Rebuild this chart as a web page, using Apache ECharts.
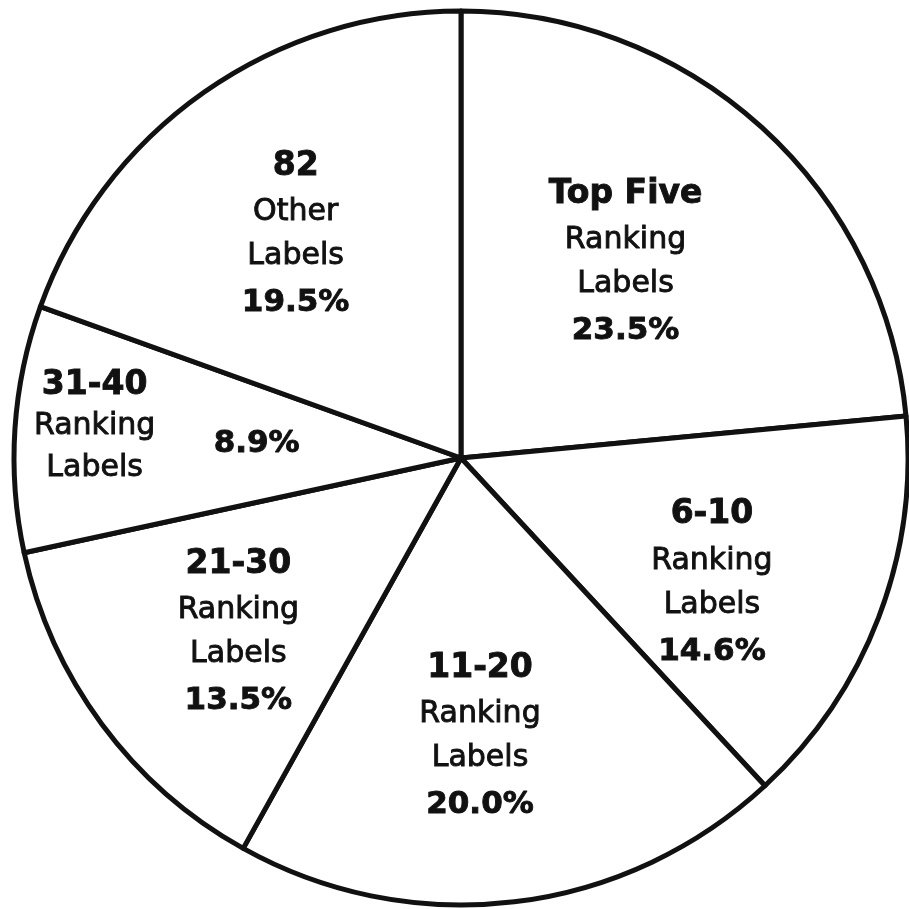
<!DOCTYPE html>
<html>
<head>
<meta charset="utf-8">
<script src="https://cdn.jsdelivr.net/npm/echarts@6/dist/echarts.min.js"></script>
<style>
  html, body { margin: 0; padding: 0; background: #fff; }
  #chart { width: 909px; height: 909px; }
</style>
</head>
<body>
<div id="chart"></div>
<script>
// Share of chart positions held by each group of record labels
const groups = ['Top Five', '6-10', '11-20', '21-30', '31-40', '82'];
const groupKinds = ['Ranking', 'Ranking', 'Ranking', 'Ranking', 'Ranking', 'Other'];
const shares = [23.5, 14.6, 20.0, 13.5, 8.9, 19.5];

// Pie geometry (pixels)
const CX = 461, CY = 458, R = 447;
// Label placement: fraction of the radius along each slice's mid angle, plus small nudges
const labelRadius = [0.62, 0.62, 0.62, 0.62, 0.66, 0.62];
const labelNudge = [[-22, 10], [-8, 27], [-14, 4], [0, 10], [-2, -11], [-6, 4]];

const total = shares.reduce((a, b) => a + b, 0);
const midAngles = [];
let acc = 0;
shares.forEach(v => { midAngles.push((acc + v / 2) / total * 2 * Math.PI); acc += v; });

const FONT = 'DejaVu Sans';
const INK = '#111';
// a thin outline of the same ink gives the printed, slightly heavy letterforms
const heavy = { textBorderColor: INK, textBorderWidth: 0.9 };

function labelText(i) {
  const pct = shares[i].toFixed(1) + '%';
  if (i === 4) {
    // narrow slice: name block on the left, percentage beside it
    return '{hs|' + groups[i] + '}{sp| }\n{ns|' + groupKinds[i] + '}{ps|' + pct + '}\n{ns|Labels}{sp| }';
  }
  return '{h|' + groups[i] + '}\n{n|' + groupKinds[i] + '}\n{n|Labels}\n{p|' + pct + '}';
}

const rich = {
  h:  Object.assign({ fontFamily: FONT, fontWeight: 'bold', fontSize: 33, lineHeight: 48, color: INK }, heavy),
  n:  Object.assign({ fontFamily: FONT, fontSize: 30, lineHeight: 44, color: INK }, heavy),
  p:  Object.assign({ fontFamily: FONT, fontWeight: 'bold', fontSize: 31, lineHeight: 50, color: INK }, heavy),
  hs: Object.assign({ fontFamily: FONT, fontWeight: 'bold', fontSize: 33, lineHeight: 40, width: 130, align: 'center', color: INK }, heavy),
  ns: Object.assign({ fontFamily: FONT, fontSize: 30, lineHeight: 42, width: 130, align: 'center', color: INK }, heavy),
  ps: Object.assign({ fontFamily: FONT, fontWeight: 'bold', fontSize: 31, lineHeight: 42, width: 140, align: 'right', padding: [34, 0, 0, 0], color: INK }, heavy),
  sp: { fontFamily: FONT, fontSize: 10, lineHeight: 10, width: 140, align: 'right', color: INK }
};

const chart = echarts.init(document.getElementById('chart'), null, { renderer: 'canvas' });
chart.setOption({
  backgroundColor: '#fff',
  animation: false,
  series: [{
    type: 'pie',
    center: [CX, CY],
    radius: R,
    startAngle: 90,
    clockwise: true,
    avoidLabelOverlap: false,
    silent: true,
    itemStyle: { color: '#fff', borderColor: INK, borderWidth: 5 },
    label: {
      show: true,
      position: 'inside',
      formatter: p => labelText(p.dataIndex),
      rich: rich
    },
    labelLine: { show: false },
    labelLayout: function (p) {
      const i = p.dataIndex, a = midAngles[i], k = labelRadius[i] * R;
      return {
        x: CX + k * Math.sin(a) + labelNudge[i][0],
        y: CY - k * Math.cos(a) + labelNudge[i][1]
      };
    },
    emphasis: { disabled: true },
    data: groups.map((g, i) => ({ name: g, value: shares[i] }))
  }]
});
</script>
</body>
</html>
